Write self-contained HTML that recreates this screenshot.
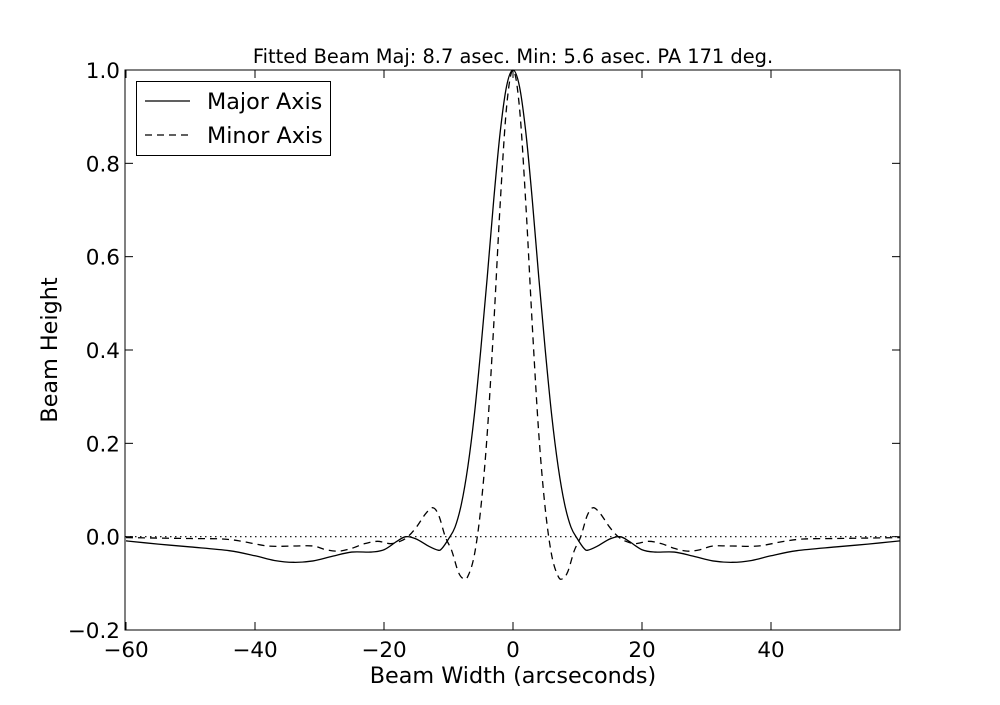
<!DOCTYPE html>
<html><head><meta charset="utf-8"><style>
body{margin:0;background:#fff;position:relative;}
svg text{font-family:"DejaVu Sans","Liberation Sans",sans-serif;fill:#000;}
</style></head><body>
<svg id="chart" width="1000" height="700" xmlns="http://www.w3.org/2000/svg">
<rect width="1000" height="700" fill="#fff"/>
<g id="plot"></g>
</svg>
<script>
const xTicks=[-60,-40,-20,0,20,40];
const yTicks=[-0.2,0.0,0.2,0.4,0.6,0.8,1.0];
const yTickLabels=["\u22120.2","0.0","0.2","0.4","0.6","0.8","1.0"];
const xTickLabels=["\u221260","\u221240","\u221220","0","20","40"];
const majorX=[0,1,2,3,4,5,6,7,8,9,10,11,11.6,13,15,16.6,18,20,22,25,28,31,34,37,40,44,50,55,60];
const majorY=[1,0.965,0.865,0.72,0.555,0.40,0.26,0.15,0.07,0.02,-0.005,-0.025,-0.029,-0.021,-0.005,0.0,-0.01,-0.028,-0.033,-0.033,-0.042,-0.052,-0.055,-0.051,-0.041,-0.03,-0.022,-0.016,-0.009];
const minorX=[0,1,2,3,4,5,6,7,7.7,8.5,9.5,10.5,11.5,12.4,13.5,15,16.3,17.5,19,21,23,25,27,29,31,34,38,42,45,50,55,60];
const minorY=[1,0.92,0.71,0.45,0.22,0.06,-0.04,-0.085,-0.09,-0.075,-0.03,0.0,0.045,0.062,0.05,0.02,0.0,-0.01,-0.015,-0.01,-0.015,-0.025,-0.031,-0.028,-0.02,-0.02,-0.02,-0.01,-0.005,-0.004,-0.003,-0.002];

const L=125,R=900,T=70,B=630;
const X=v=>513+(v)*(771-513)/40;
const Y=v=>T+(1.0-v)*(B-T)/1.2;
const NS="http://www.w3.org/2000/svg";
const g=document.getElementById('plot');
function mk(tag,attrs){const e=document.createElementNS(NS,tag);for(const k in attrs)e.setAttribute(k,attrs[k]);g.appendChild(e);return e;}

const zl=mk('line',{x1:L,x2:R,y1:Y(0),y2:Y(0),stroke:'#000','stroke-width':1.2,'stroke-dasharray':'1.5,3.5'});



function mirror(xs,ys){const px=[],py=[];for(let i=xs.length-1;i>0;i--){px.push(-xs[i]);py.push(ys[i]);}for(let i=0;i<xs.length;i++){px.push(xs[i]);py.push(ys[i]);}return [px,py];}
function smoothPath(xs,ys){
  const p=xs.map((x,i)=>[X(x),Y(ys[i])]);
  let d='M'+p[0][0].toFixed(2)+','+p[0][1].toFixed(2);
  for(let i=0;i<p.length-1;i++){
    const p0=p[Math.max(0,i-1)],p1=p[i],p2=p[i+1],p3=p[Math.min(p.length-1,i+2)];
    const c1=[p1[0]+(p2[0]-p0[0])/6,p1[1]+(p2[1]-p0[1])/6];
    const c2=[p2[0]-(p3[0]-p1[0])/6,p2[1]-(p3[1]-p1[1])/6];
    d+=' C'+c1[0].toFixed(2)+','+c1[1].toFixed(2)+' '+c2[0].toFixed(2)+','+c2[1].toFixed(2)+' '+p2[0].toFixed(2)+','+p2[1].toFixed(2);
  }
  return d;
}
let [mx,my]=mirror(majorX,majorY);
const maj=mk('path',{d:smoothPath(mx,my),fill:'none',stroke:'#000','stroke-width':1.3});


let [nx,ny]=mirror(minorX,minorY);
const mnr=mk('path',{d:smoothPath(nx,ny),fill:'none',stroke:'#000','stroke-width':1.3,'stroke-dasharray':'7,5'});



const fr=mk('rect',{x:L,y:T,width:R-L,height:B-T,fill:'none',stroke:'#000','stroke-width':1});



xTicks.forEach((v,i)=>{
  const x=X(v);
  const t1=mk('line',{x1:x,x2:x,y1:B,y2:B-8,stroke:'#000'});
  
  
  mk('line',{x1:x,x2:x,y1:T,y2:T+8,stroke:'#000'});
  const tx=mk('text',{x:x,y:B+27,'text-anchor':'middle','font-size':21.5});
  tx.textContent=xTickLabels[i];
  
  
});
yTicks.forEach((v,i)=>{
  const y=Y(v);
  const t1=mk('line',{x1:L,x2:L+8,y1:y,y2:y,stroke:'#000'});
  
  
  mk('line',{x1:R,x2:R-8,y1:y,y2:y,stroke:'#000'});
  const tx=mk('text',{x:L-5,y:y+8,'text-anchor':'end','font-size':21.5});
  tx.textContent=yTickLabels[i];
  
  
});
</script>
<svg style="position:absolute;left:0;top:0" width="1000" height="700">
<text x="513" y="63" text-anchor="middle" font-size="19.4">Fitted Beam Maj: 8.7 asec. Min: 5.6 asec. PA 171 deg.</text>
<text x="513" y="683" text-anchor="middle" font-size="22.3">Beam Width (arcseconds)</text>
<text x="57" y="350" text-anchor="middle" font-size="22.3" transform="rotate(-90 57 350)">Beam Height</text>
<g>
<rect x="136.5" y="81.5" width="194" height="74" fill="#fff" stroke="#000"/>
<line x1="145" x2="190" y1="101" y2="101" stroke="#000" stroke-width="1.3"/>
<text x="207" y="109" font-size="22.3">Major Axis</text>
<line x1="145" x2="190" y1="135" y2="135" stroke="#000" stroke-width="1.3" stroke-dasharray="7,5"/>
<text x="207" y="143" font-size="22.3">Minor Axis</text>
</g>
</svg>
</body></html>
